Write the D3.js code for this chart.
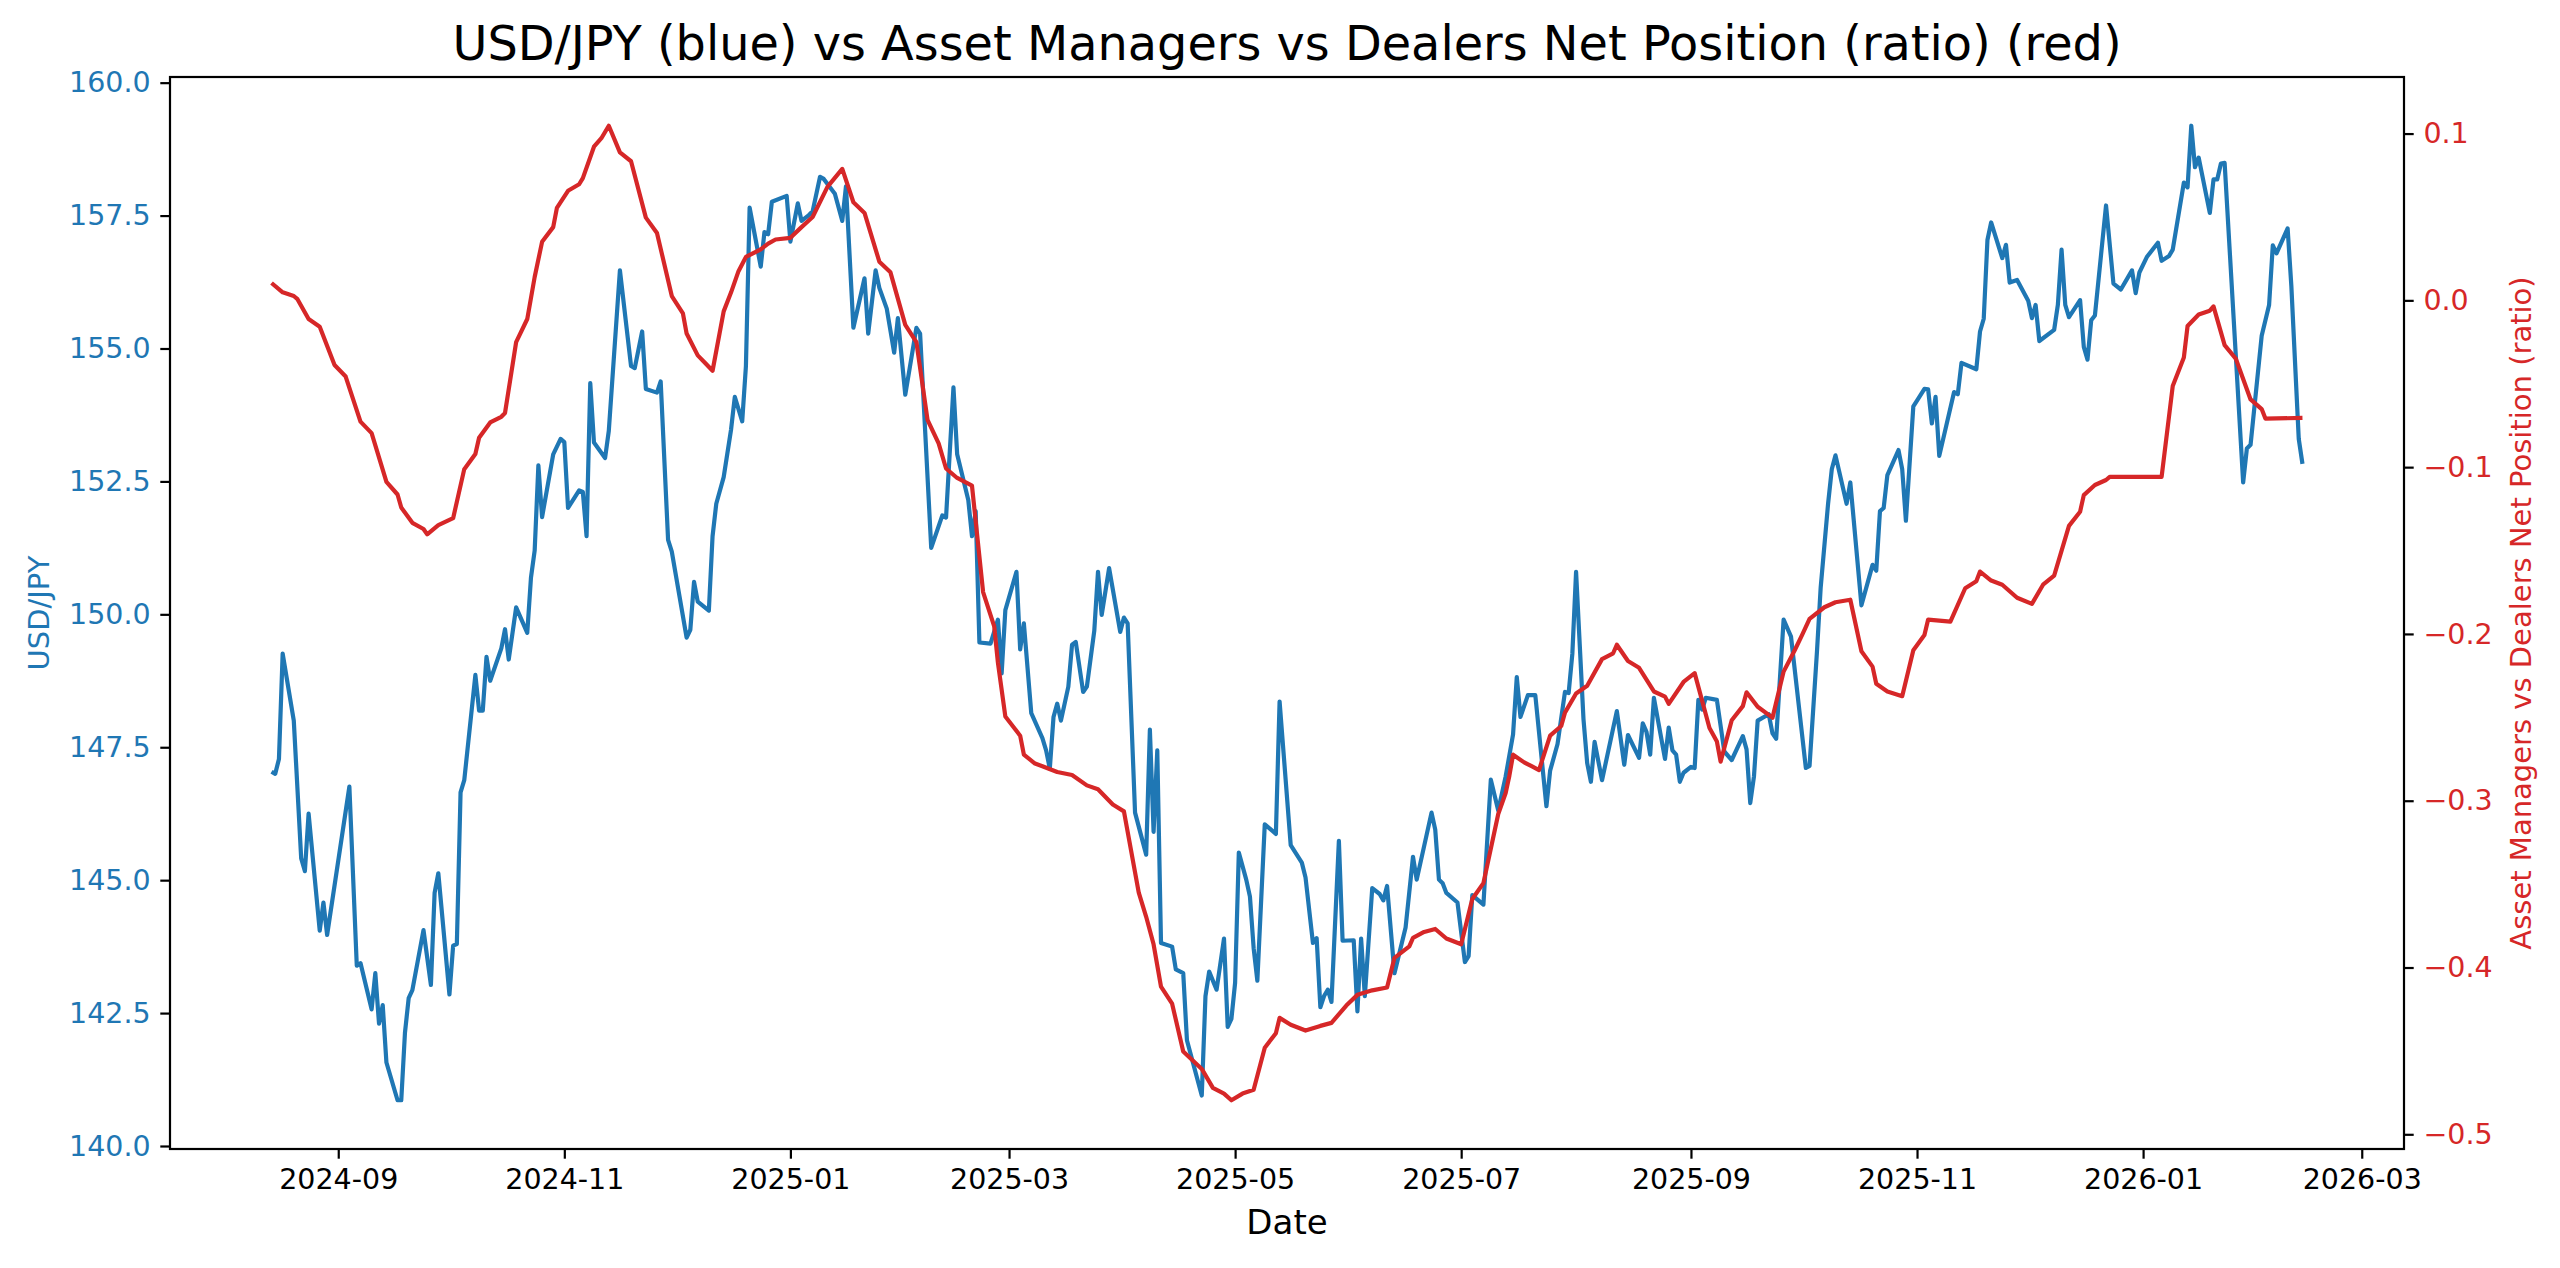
<!DOCTYPE html>
<html>
<head>
  <meta charset="utf-8">
  <title>USD/JPY vs Asset Managers vs Dealers Net Position</title>
  <script src="https://d3js.org/d3.v7.min.js"></script>
  <style>
    body { margin: 0; background: #fff; }
    svg text { font-family: "DejaVu Sans", sans-serif; }
  </style>
</head>
<body>
  <div id="chart"></div>
  <script>
    // USD/JPY close (blue, left axis) - one line per month
    var fxDates = [
      "2024-08-14","2024-08-15","2024-08-16","2024-08-17","2024-08-20","2024-08-22","2024-08-23","2024-08-24","2024-08-27","2024-08-28","2024-08-29",
      "2024-09-04","2024-09-06","2024-09-07","2024-09-10","2024-09-11","2024-09-12","2024-09-13","2024-09-14","2024-09-17","2024-09-18","2024-09-19","2024-09-20","2024-09-21","2024-09-24","2024-09-26","2024-09-27","2024-09-28",
      "2024-10-01","2024-10-02","2024-10-03","2024-10-04","2024-10-05","2024-10-08","2024-10-09","2024-10-10","2024-10-11","2024-10-12","2024-10-15","2024-10-16","2024-10-17","2024-10-19","2024-10-22","2024-10-23","2024-10-24","2024-10-25","2024-10-26","2024-10-29","2024-10-31",
      "2024-11-01","2024-11-02","2024-11-05","2024-11-06","2024-11-07","2024-11-08","2024-11-09","2024-11-12","2024-11-13","2024-11-16","2024-11-19","2024-11-20","2024-11-22","2024-11-23","2024-11-26","2024-11-27","2024-11-29","2024-11-30",
      "2024-12-04","2024-12-05","2024-12-06","2024-12-07","2024-12-10","2024-12-11","2024-12-12","2024-12-14","2024-12-16","2024-12-17","2024-12-19","2024-12-20","2024-12-21","2024-12-24","2024-12-25","2024-12-26","2024-12-27","2024-12-31",
      "2025-01-01","2025-01-03","2025-01-04","2025-01-06","2025-01-07","2025-01-09","2025-01-10","2025-01-13","2025-01-15","2025-01-16","2025-01-18","2025-01-21","2025-01-22","2025-01-24","2025-01-25","2025-01-27","2025-01-29","2025-01-30",
      "2025-02-01","2025-02-04","2025-02-05","2025-02-08","2025-02-11","2025-02-12","2025-02-14","2025-02-15","2025-02-18","2025-02-19","2025-02-20","2025-02-21","2025-02-24","2025-02-26","2025-02-27","2025-02-28",
      "2025-03-03","2025-03-04","2025-03-05","2025-03-07","2025-03-10","2025-03-11","2025-03-12","2025-03-13","2025-03-14","2025-03-15","2025-03-17","2025-03-18","2025-03-19","2025-03-21","2025-03-22","2025-03-24","2025-03-25","2025-03-26","2025-03-28","2025-03-31",
      "2025-04-01","2025-04-02","2025-04-04","2025-04-07","2025-04-08","2025-04-09","2025-04-10","2025-04-11","2025-04-14","2025-04-15","2025-04-17","2025-04-18","2025-04-22","2025-04-23","2025-04-24","2025-04-26","2025-04-28","2025-04-29","2025-04-30",
      "2025-05-01","2025-05-02","2025-05-04","2025-05-05","2025-05-06","2025-05-07","2025-05-09","2025-05-12","2025-05-13","2025-05-16","2025-05-19","2025-05-20","2025-05-22","2025-05-23","2025-05-24","2025-05-25","2025-05-26","2025-05-27","2025-05-29","2025-05-30",
      "2025-06-02","2025-06-03","2025-06-04","2025-06-05","2025-06-07","2025-06-09","2025-06-10","2025-06-11","2025-06-13","2025-06-16","2025-06-18","2025-06-19","2025-06-23","2025-06-24","2025-06-25","2025-06-26","2025-06-27","2025-06-30",
      "2025-07-02","2025-07-03","2025-07-04","2025-07-07","2025-07-09","2025-07-11","2025-07-13","2025-07-15","2025-07-16","2025-07-17","2025-07-19","2025-07-21","2025-07-24","2025-07-25","2025-07-27","2025-07-29","2025-07-30","2025-07-31",
      "2025-08-01","2025-08-03","2025-08-04","2025-08-05","2025-08-06","2025-08-08","2025-08-12","2025-08-14","2025-08-15","2025-08-18","2025-08-19","2025-08-20","2025-08-21","2025-08-22","2025-08-25","2025-08-26","2025-08-27","2025-08-28","2025-08-29","2025-08-30",
      "2025-09-01","2025-09-02","2025-09-03","2025-09-04","2025-09-05","2025-09-08","2025-09-10","2025-09-12","2025-09-15","2025-09-16","2025-09-17","2025-09-18","2025-09-19","2025-09-22","2025-09-23","2025-09-24","2025-09-26","2025-09-28",
      "2025-10-02","2025-10-03","2025-10-05","2025-10-06","2025-10-08","2025-10-09","2025-10-10","2025-10-13","2025-10-14","2025-10-17","2025-10-20","2025-10-21","2025-10-22","2025-10-23","2025-10-24","2025-10-27","2025-10-28","2025-10-29","2025-10-31",
      "2025-11-01","2025-11-03","2025-11-04","2025-11-05","2025-11-06","2025-11-07","2025-11-11","2025-11-12","2025-11-13","2025-11-17","2025-11-18","2025-11-19","2025-11-20","2025-11-21","2025-11-24","2025-11-25","2025-11-26","2025-11-28",
      "2025-12-01","2025-12-02","2025-12-03","2025-12-04","2025-12-08","2025-12-09","2025-12-10","2025-12-11","2025-12-12","2025-12-15","2025-12-16","2025-12-17","2025-12-18","2025-12-19","2025-12-22","2025-12-24","2025-12-26","2025-12-29","2025-12-30","2025-12-31",
      "2026-01-02","2026-01-05","2026-01-06","2026-01-08","2026-01-09","2026-01-12","2026-01-13","2026-01-14","2026-01-15","2026-01-16","2026-01-19","2026-01-20","2026-01-21","2026-01-22","2026-01-23","2026-01-28","2026-01-29","2026-01-30",
      "2026-02-02","2026-02-04","2026-02-05","2026-02-06","2026-02-09","2026-02-10","2026-02-12","2026-02-13"
    ];
    var fxValues = [
      147.04,147.0,147.28,149.26,148.0,145.41,145.17,146.25,144.05,144.58,143.97,
      146.76,143.39,143.44,142.57,143.25,142.30,142.65,141.57,140.86,140.86,142.13,142.78,142.93,144.06,143.03,144.76,145.13,
      142.85,143.77,143.8,146.65,146.88,148.86,148.19,148.19,149.2,148.75,149.36,149.72,149.15,150.13,149.65,150.69,151.2,152.8,151.83,153.01,153.3,
      153.24,152.0,152.33,152.3,151.47,154.35,153.23,152.94,153.45,156.47,154.67,154.63,155.32,154.24,154.17,154.38,151.4,151.18,
      149.56,149.71,150.61,150.24,150.07,151.47,152.08,152.58,153.48,154.09,153.63,154.67,157.65,156.54,157.19,157.15,157.76,157.87,
      157.01,157.73,157.40,157.51,157.58,158.23,158.19,157.91,157.40,158.05,155.39,156.32,155.28,156.47,156.14,155.75,154.92,155.57,
      154.13,155.39,155.28,151.25,151.86,151.82,154.27,153.01,152.15,151.47,151.94,149.47,149.45,149.9,148.89,150.08,
      150.8,149.34,149.83,148.14,147.67,147.44,147.1,148.07,148.32,148.0,148.64,149.43,149.48,148.54,148.64,149.69,150.80,149.99,150.87,149.67,
      149.94,149.83,146.27,145.48,147.83,145.91,147.44,143.82,143.75,143.32,143.25,141.99,140.95,142.82,143.28,142.94,143.90,142.24,142.39,
      143.07,145.52,145.01,144.69,143.72,143.11,146.05,145.87,148.36,145.66,145.33,145.05,143.82,143.91,142.61,142.82,142.94,142.71,145.74,143.86,
      143.87,142.53,143.9,142.82,144.85,144.74,144.62,144.89,143.25,144.11,145.44,145.01,146.27,145.95,145.01,144.94,144.76,144.58,
      143.46,143.57,144.72,144.54,146.89,146.31,146.95,147.74,148.82,148.07,148.48,148.48,146.39,147.06,147.56,148.54,148.52,149.26,
      150.80,148.03,147.2,146.85,147.6,146.88,148.18,147.17,147.73,147.3,147.95,147.79,147.36,148.43,147.28,147.87,147.44,147.36,146.85,147.02,
      147.13,147.11,148.39,148.21,148.43,148.39,147.42,147.26,147.71,147.46,146.45,146.95,148.0,148.12,147.76,147.66,149.90,149.58,
      147.11,147.15,149.3,150.5,152.08,152.73,152.99,152.08,152.48,150.17,150.93,150.82,151.94,152.0,152.62,153.09,152.73,151.76,153.91,
      154.02,154.24,154.23,153.59,154.09,152.98,154.18,154.14,154.73,154.61,155.32,155.56,157.04,157.37,156.70,156.95,156.24,156.29,
      155.9,155.57,155.82,155.14,155.35,155.82,156.86,155.82,155.59,155.91,155.03,154.79,155.53,155.62,157.69,156.22,156.11,156.47,156.04,156.43,
      156.72,156.99,156.65,156.74,156.86,158.12,158.03,159.19,158.41,158.59,157.55,158.18,158.18,158.48,158.49,152.48,153.12,153.19,
      155.24,155.82,156.94,156.79,157.26,156.18,153.3,152.83
    ];

    // Asset managers vs dealers net position ratio (red, right axis)
    var cotDates = [
      "2024-08-14","2024-08-17","2024-08-20","2024-08-21","2024-08-24","2024-08-27","2024-08-31",
      "2024-09-03","2024-09-07","2024-09-10","2024-09-14","2024-09-17","2024-09-18","2024-09-21","2024-09-24","2024-09-25","2024-09-28",
      "2024-10-02","2024-10-05","2024-10-08","2024-10-09","2024-10-12","2024-10-15","2024-10-16","2024-10-19","2024-10-22","2024-10-24","2024-10-26","2024-10-29","2024-10-30",
      "2024-11-02","2024-11-05","2024-11-06","2024-11-09","2024-11-11","2024-11-13","2024-11-16","2024-11-19","2024-11-23","2024-11-26","2024-11-30",
      "2024-12-03","2024-12-04","2024-12-07","2024-12-09","2024-12-11","2024-12-14","2024-12-16","2024-12-18","2024-12-20","2024-12-24","2024-12-26","2024-12-28",
      "2025-01-01","2025-01-04","2025-01-07","2025-01-11","2025-01-15","2025-01-18","2025-01-21","2025-01-25","2025-01-28",
      "2025-02-01","2025-02-04","2025-02-07","2025-02-10","2025-02-12","2025-02-15","2025-02-19","2025-02-22","2025-02-25","2025-02-26","2025-02-28",
      "2025-03-04","2025-03-05","2025-03-08","2025-03-10","2025-03-14","2025-03-18","2025-03-22","2025-03-25","2025-03-29",
      "2025-04-01","2025-04-05","2025-04-07","2025-04-09","2025-04-11","2025-04-14","2025-04-17","2025-04-22","2025-04-25","2025-04-28","2025-04-30",
      "2025-05-03","2025-05-06","2025-05-09","2025-05-12","2025-05-13","2025-05-16","2025-05-20","2025-05-24","2025-05-27","2025-05-31",
      "2025-06-03","2025-06-07","2025-06-11","2025-06-13","2025-06-17","2025-06-18","2025-06-21","2025-06-24","2025-06-27",
      "2025-07-01","2025-07-04","2025-07-07","2025-07-11","2025-07-13","2025-07-14","2025-07-15","2025-07-18","2025-07-20","2025-07-22","2025-07-25","2025-07-28","2025-07-29",
      "2025-08-01","2025-08-04","2025-08-08","2025-08-11","2025-08-12","2025-08-15","2025-08-18","2025-08-22","2025-08-25","2025-08-26","2025-08-30",
      "2025-09-02","2025-09-06","2025-09-08","2025-09-09","2025-09-12","2025-09-15","2025-09-16","2025-09-19","2025-09-23","2025-09-26","2025-09-29",
      "2025-10-01","2025-10-03","2025-10-07","2025-10-10","2025-10-14","2025-10-17","2025-10-20","2025-10-21","2025-10-24","2025-10-28","2025-10-31",
      "2025-11-03","2025-11-04","2025-11-10","2025-11-14","2025-11-17","2025-11-18","2025-11-21","2025-11-24","2025-11-28",
      "2025-12-02","2025-12-05","2025-12-08","2025-12-12","2025-12-15","2025-12-16","2025-12-19","2025-12-22","2025-12-23",
      "2026-01-06","2026-01-09","2026-01-12","2026-01-13","2026-01-16","2026-01-19","2026-01-20","2026-01-23","2026-01-26","2026-01-30",
      "2026-02-02","2026-02-03","2026-02-13"
    ];
    var cotValues = [
      0.0104,0.0048,0.0026,0.0007,-0.0112,-0.0158,-0.0388,
      -0.0457,-0.0727,-0.0796,-0.1088,-0.1164,-0.1242,-0.1334,-0.1371,-0.1403,-0.1348,
      -0.1306,-0.1012,-0.0921,-0.0824,-0.0732,-0.0698,-0.0675,-0.025,-0.0112,0.014,0.0351,0.0439,0.0554,
      0.0657,0.0696,0.0733,0.0921,0.0972,0.1047,0.0887,0.0834,0.0496,0.0404,0.0026,
      -0.0078,-0.0199,-0.033,-0.0376,-0.0422,-0.0066,0.0048,0.0175,0.026,0.0306,0.034,0.0365,
      0.0375,0.0439,0.05,0.068,0.0788,0.0588,0.0524,0.0232,0.0168,
      -0.0147,-0.025,-0.0716,-0.0858,-0.1008,-0.1065,-0.1111,-0.1749,-0.1955,-0.2173,-0.2495,
      -0.261,-0.2724,-0.2777,-0.2793,-0.2828,-0.2846,-0.2908,-0.2931,-0.3023,
      -0.3064,-0.3551,-0.3696,-0.3861,-0.4114,-0.4217,-0.4504,-0.4608,-0.4722,-0.4756,-0.4796,
      -0.4756,-0.4733,-0.4481,-0.4394,-0.4302,-0.4343,-0.4378,-0.435,-0.4332,-0.4228,
      -0.4164,-0.4137,-0.412,-0.3942,-0.3873,-0.3822,-0.3787,-0.3769,-0.3826,
      -0.3861,-0.3589,-0.3494,-0.308,-0.2954,-0.285,-0.2724,-0.277,-0.2793,-0.2816,-0.261,-0.2552,-0.2472,
      -0.2357,-0.2311,-0.2151,-0.2116,-0.2065,-0.2162,-0.2203,-0.2345,-0.2376,-0.2419,-0.2288,
      -0.2235,-0.2564,-0.2645,-0.2766,-0.2518,-0.2433,-0.235,-0.2437,-0.2502,-0.2226,-0.2098,
      -0.2006,-0.191,-0.184,-0.181,-0.1795,-0.2104,-0.2196,-0.2299,-0.2345,-0.2373,-0.2098,
      -0.2006,-0.1914,-0.1926,-0.1726,-0.1684,-0.1626,-0.168,-0.1705,-0.1783,
      -0.182,-0.1705,-0.165,-0.1352,-0.1267,-0.1168,-0.1107,-0.1077,-0.1058,
      -0.1058,-0.0514,-0.0342,-0.0154,-0.0085,-0.0062,-0.0036,-0.0268,-0.0349,-0.0594,
      -0.0652,-0.0709,-0.0705
    ];

    // tick values
    var leftTicks = [140.0, 142.5, 145.0, 147.5, 150.0, 152.5, 155.0, 157.5, 160.0];
    var rightTicks = [-0.5, -0.4, -0.3, -0.2, -0.1, 0.0, 0.1];

    var blue = "#1f77b4", red = "#d62728";
    var width = 2560, height = 1268;
    var margin = { top: 77, right: 156, bottom: 119, left: 170 };
    var plotW = width - margin.left - margin.right;
    var plotH = height - margin.top - margin.bottom;
    var tickLen = 9.7, tickPad = 9.7;

    var parse = d3.utcParse("%Y-%m-%d");
    var fx = fxDates.map(function (d, i) { return { date: parse(d), value: fxValues[i] }; });
    var cot = cotDates.map(function (d, i) { return { date: parse(d), value: cotValues[i] }; });

    // matplotlib style 5% margins
    function pad(ext) {
      var r = ext[1] - ext[0];
      return [ext[0] - r * 0.05, ext[1] + r * 0.05];
    }

    var xExt = d3.extent(fx.concat(cot), function (d) { return d.date; });
    var xSpan = xExt[1] - xExt[0];
    var x = d3.scaleUtc()
      .domain([new Date(+xExt[0] - xSpan * 0.05), new Date(+xExt[1] + xSpan * 0.05)])
      .range([0, plotW]);

    var yLeft = d3.scaleLinear()
      .domain(pad(d3.extent(fx, function (d) { return d.value; })))
      .range([plotH, 0]);

    var yRight = d3.scaleLinear()
      .domain(pad(d3.extent(cot, function (d) { return d.value; })))
      .range([plotH, 0]);

    var svg = d3.select("#chart")
      .append("svg")
      .attr("width", width)
      .attr("height", height);

    var g = svg.append("g")
      .attr("transform", "translate(" + margin.left + "," + margin.top + ")");

    var fxLine = d3.line()
      .x(function (d) { return x(d.date); })
      .y(function (d) { return yLeft(d.value); });

    var cotLine = d3.line()
      .x(function (d) { return x(d.date); })
      .y(function (d) { return yRight(d.value); });

    g.append("path")
      .datum(fx)
      .attr("d", fxLine)
      .attr("fill", "none")
      .attr("stroke", blue)
      .attr("stroke-width", 4.2)
      .attr("stroke-linejoin", "round");

    g.append("path")
      .datum(cot)
      .attr("d", cotLine)
      .attr("fill", "none")
      .attr("stroke", red)
      .attr("stroke-width", 4.2)
      .attr("stroke-linejoin", "round");

    // axes
    var xAxis = d3.axisBottom(x)
      .ticks(d3.utcMonth.every(2))
      .tickFormat(d3.utcFormat("%Y-%m"))
      .tickSize(tickLen)
      .tickPadding(tickPad)
      .tickSizeOuter(0);

    var leftAxis = d3.axisLeft(yLeft)
      .tickValues(leftTicks)
      .tickFormat(d3.format(".1f"))
      .tickSize(tickLen)
      .tickPadding(tickPad)
      .tickSizeOuter(0);

    var rightAxis = d3.axisRight(yRight)
      .tickValues(rightTicks)
      .tickFormat(d3.format(".1f"))
      .tickSize(tickLen)
      .tickPadding(tickPad)
      .tickSizeOuter(0);

    function styleAxis(sel, color) {
      sel.select(".domain").remove();
      sel.selectAll(".tick line").attr("stroke", "#000").attr("stroke-width", 2.2);
      sel.selectAll(".tick text")
        .attr("fill", color)
        .style("font-size", "28.5px")
        .style("font-family", "'DejaVu Sans', sans-serif");
    }

    g.append("g")
      .attr("transform", "translate(0," + plotH + ")")
      .call(xAxis)
      .call(styleAxis, "#000");

    g.append("g")
      .call(leftAxis)
      .call(styleAxis, blue);

    g.append("g")
      .attr("transform", "translate(" + plotW + ",0)")
      .call(rightAxis)
      .call(styleAxis, red);

    // frame
    g.append("rect")
      .attr("width", plotW)
      .attr("height", plotH)
      .attr("fill", "none")
      .attr("stroke", "#000")
      .attr("stroke-width", 2.2);

    // labels
    svg.append("text")
      .attr("x", margin.left + plotW / 2)
      .attr("y", 60)
      .attr("text-anchor", "middle")
      .style("font-size", "47.8px")
      .text("USD/JPY (blue) vs Asset Managers vs Dealers Net Position (ratio) (red)");

    svg.append("text")
      .attr("x", margin.left + plotW / 2)
      .attr("y", 1234)
      .attr("text-anchor", "middle")
      .style("font-size", "34px")
      .text("Date");

    svg.append("text")
      .attr("transform", "translate(49," + (margin.top + plotH / 2) + ") rotate(-90)")
      .attr("text-anchor", "middle")
      .attr("fill", blue)
      .style("font-size", "29px")
      .text("USD/JPY");

    svg.append("text")
      .attr("transform", "translate(2531," + (margin.top + plotH / 2) + ") rotate(-90)")
      .attr("text-anchor", "middle")
      .attr("fill", red)
      .style("font-size", "29px")
      .text("Asset Managers vs Dealers Net Position (ratio)");
  </script>
</body>
</html>
